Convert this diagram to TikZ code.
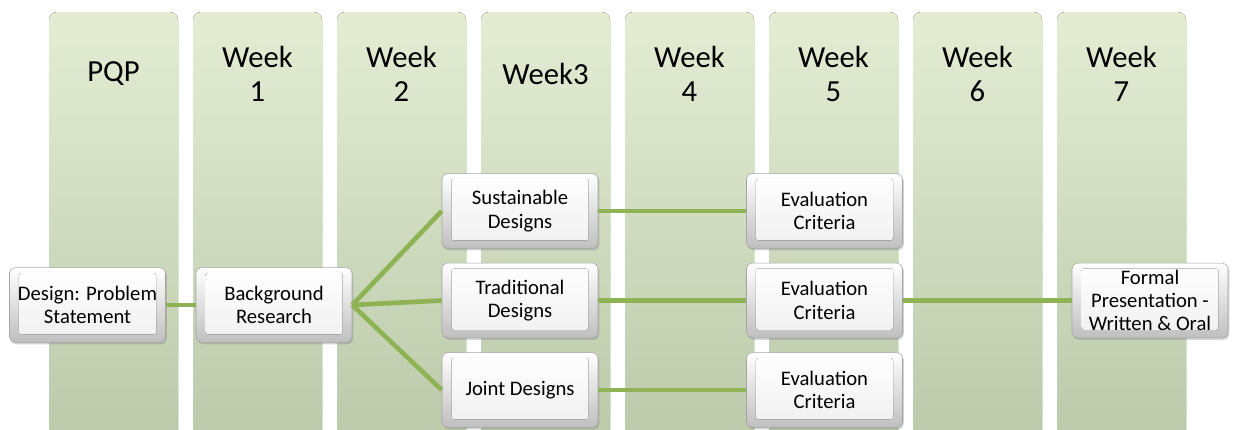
\documentclass[tikz,border=0pt]{standalone}
\usepackage{fontspec}
\setmainfont{Carlito}
\usetikzlibrary{shadows}
\definecolor{weektop}{RGB}{228,237,212}
\definecolor{weekbottom}{RGB}{187,201,169}
\definecolor{linkgreen}{RGB}{143,178,84}
\definecolor{boxedge}{RGB}{165,165,165}

\tikzset{
  week/.style={rounded corners=6pt,top color=weektop,bottom color=weekbottom,draw=none},
  weeklabel/.style={align=center,font=\fontsize{23}{26}\selectfont},
  task/.style={draw=boxedge,rounded corners=4pt,top color=white,bottom color=black!25,
    minimum width=117pt,minimum height=56pt,inner sep=1pt,align=center,
    font=\fontsize{15.5}{17.5}\selectfont,
    drop shadow={opacity=0.35,shadow xshift=1pt,shadow yshift=-1.5pt},
    path picture={\fill[rounded corners=2pt,top color=white,bottom color=black!6]
      ([shift={(7pt,6pt)}]path picture bounding box.south west) rectangle
      ([shift={(-7pt,-4pt)}]path picture bounding box.north east);}},
  link/.style={draw=linkgreen,line width=3.5pt}
}

\begin{document}
\begin{tikzpicture}[x=0.75pt,y=-0.75pt]
\useasboundingbox (0,0) rectangle (1233,429);
\foreach \i/\name in {0/PQP,1/Week\\1,2/Week\\2,3/Week3,4/Week\\4,5/Week\\5,6/Week\\6,7/Week\\7}
{
  \fill[week] (49+144*\i,12) rectangle (178+144*\i,445);
  \node [weeklabel] (head\i) at (113.5+144*\i,74) {\name};
}

\node [task] (design) at (87.5,305) {Design: Problem\\Statement};
\node [task] (research) at (274,305) {Background\\Research};
\node [task] (sustainable) at (520,211) {Sustainable\\Designs};
\node [task] (traditional) at (520,300.5) {Traditional\\Designs};
\node [task] (joint) at (520,390) {Joint Designs};
\node [task] (evalA) at (824.5,211) {Evaluation\\Criteria};
\node [task] (evalB) at (824.5,300.5) {Evaluation\\Criteria};
\node [task] (evalC) at (824.5,390) {Evaluation\\Criteria};
\node [task] (formal) at (1150,300.5) {Formal\\Presentation -\\Written \& Oral};

\draw[link] (design.east) -- (research.west);
\draw[link] (research.east) -- (sustainable.west);
\draw[link] (research.east) -- (traditional.west);
\draw[link] (research.east) -- (joint.west);
\draw[link] (sustainable.east) -- (evalA.west);
\draw[link] (traditional.east) -- (evalB.west);
\draw[link] (joint.east) -- (evalC.west);
\draw[link] (evalB.east) -- (formal.west);
\end{tikzpicture}
\end{document}
